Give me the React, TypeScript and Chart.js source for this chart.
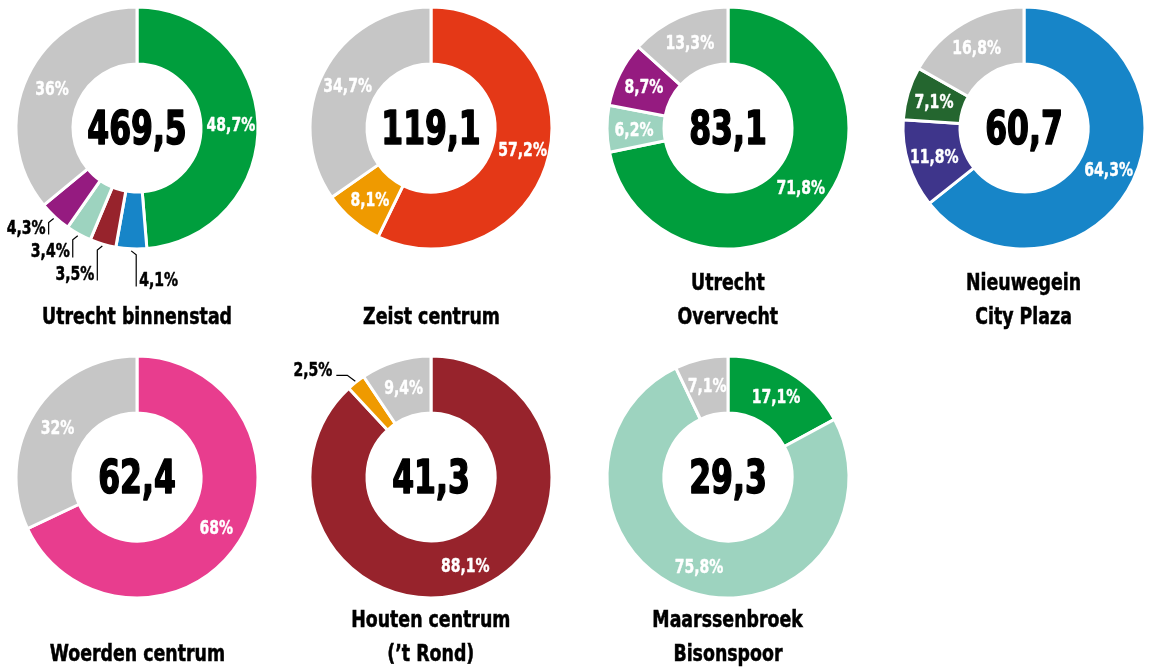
import React, { useEffect, useRef } from 'react';
import { Chart, registerables } from 'chart.js';

Chart.register(...registerables);

const FONT = '"Liberation Sans Narrow", "DejaVu Sans Condensed", "Roboto", "Liberation Sans", sans-serif';

// ---- data ----
const titles: string[][] = [
  ['Utrecht binnenstad'],
  ['Zeist centrum'],
  ['Utrecht', 'Overvecht'],
  ['Nieuwegein', 'City Plaza'],
  ['Woerden centrum'],
  ['Houten centrum', '(’t Rond)'],
  ['Maarssenbroek', 'Bisonspoor'],
];

const totals: number[] = [469.5, 119.1, 83.1, 60.7, 62.4, 41.3, 29.3];

const sharesUtrechtBinnenstad = [48.7, 4.1, 3.5, 3.4, 4.3, 36];
const sharesZeistCentrum = [57.2, 8.1, 34.7];
const sharesUtrechtOvervecht = [71.8, 6.2, 8.7, 13.3];
const sharesNieuwegein = [64.3, 11.8, 7.1, 16.8];
const sharesWoerden = [68, 32];
const sharesHouten = [88.1, 2.5, 9.4];
const sharesMaarssenbroek = [17.1, 75.8, 7.1];

const shares: number[][] = [
  sharesUtrechtBinnenstad,
  sharesZeistCentrum,
  sharesUtrechtOvervecht,
  sharesNieuwegein,
  sharesWoerden,
  sharesHouten,
  sharesMaarssenbroek,
];

// ---- styles ----
const GREEN = '#009e3d';
const BLUE = '#1785c8';
const DARKRED = '#97232c';
const MINT = '#9dd3bf';
const PURPLE = '#951b80';
const GRAY = '#c6c6c6';
const REDORANGE = '#e43817';
const ORANGE = '#ef9a00';
const DARKGREEN = '#24662f';
const INDIGO = '#3e358b';
const PINK = '#e83d8e';

const colors: string[][] = [
  [GREEN, BLUE, DARKRED, MINT, PURPLE, GRAY],
  [REDORANGE, ORANGE, GRAY],
  [GREEN, MINT, PURPLE, GRAY],
  [BLUE, INDIGO, DARKGREEN, GRAY],
  [PINK, GRAY],
  [DARKRED, ORANGE, GRAY],
  [GREEN, MINT, GRAY],
];

// ---- layout ----
const COL_X = [137, 431, 728, 1024];
const ROW_Y = [128, 477];
const TITLE_LAST_LINE_Y = [316, 653];
const HALF = 170;
const OUTER = 121;
const INNER = 64;
const NUM_SCALE = 0.76;
const LABEL_SCALE = 0.82;
const TITLE_SCALE = 0.84;

function fmt(v: number): string {
  return String(v).replace('.', ',');
}

function drawText(
  ctx: CanvasRenderingContext2D,
  txt: string,
  x: number,
  y: number,
  align: CanvasTextAlign,
  sx: number,
  strokeW = 0
) {
  ctx.save();
  ctx.translate(x, y);
  ctx.scale(sx, 1);
  ctx.textAlign = align;
  ctx.textBaseline = 'alphabetic';
  if (strokeW > 0) {
    ctx.lineWidth = strokeW;
    ctx.strokeStyle = ctx.fillStyle as string;
    ctx.lineJoin = 'round';
    ctx.strokeText(txt, 0, 0);
  }
  ctx.fillText(txt, 0, 0);
  ctx.restore();
}

function makeLabelPlugin(total: number, data: number[]) {
  return {
    id: 'donutLabels',
    afterDraw(chart: any) {
      const ctx: CanvasRenderingContext2D = chart.ctx;
      const meta = chart.getDatasetMeta(0);
      const arcs = meta.data;
      if (!arcs.length) return;
      const c = arcs[0].getProps(['x', 'y'], true);
      const cx = c.x, cy = c.y;
      ctx.save();
      // centre total
      ctx.fillStyle = '#000';
      ctx.font = `bold 46px ${FONT}`;
      drawText(ctx, fmt(total), cx, cy + 16, 'center', NUM_SCALE, 1.6);

      ctx.font = `bold 19px ${FONT}`;
      const lower: any[] = [];
      const upper: any[] = [];
      arcs.forEach((arc: any, i: number) => {
        const p = arc.getProps(['startAngle', 'endAngle', 'innerRadius', 'outerRadius'], true);
        const mid = (p.startAngle + p.endAngle) / 2;
        const txt = fmt(data[i]) + '%';
        if (data[i] >= 5) {
          const r = (p.innerRadius + p.outerRadius) / 2 + 1.5;
          ctx.fillStyle = '#fff';
          drawText(ctx, txt, cx + r * Math.cos(mid), cy + r * Math.sin(mid) + 7, 'center', LABEL_SCALE, 0.4);
        } else {
          const item = { mid, txt, outer: p.outerRadius };
          if (Math.sin(mid) > 0) lower.push(item);
          else upper.push(item);
        }
      });

      ctx.strokeStyle = '#000';
      ctx.lineWidth = 1.2;
      ctx.fillStyle = '#000';

      // lower labels: staircase with vertical leaders
      lower.sort((a, b) => Math.abs(Math.cos(b.mid)) - Math.abs(Math.cos(a.mid)));
      let prevEnd = -Infinity;
      lower.forEach((it) => {
        const r0 = it.outer + 2;
        const x0 = cx + r0 * Math.cos(it.mid);
        const y0 = cy + r0 * Math.sin(it.mid);
        const nearBottom = Math.abs(Math.cos(it.mid)) < 0.15;
        const dir = nearBottom ? 1 : Math.cos(it.mid) < 0 ? -1 : 1;
        const x1 = x0 + dir * 5;
        const y1 = y0 + 4;
        const yEnd = nearBottom
          ? Math.max(y1 + 12, prevEnd + 6)
          : Math.max(y1 + 12, prevEnd + 23);
        ctx.strokeStyle = '#000';
        ctx.lineWidth = 1.2;
        ctx.beginPath();
        ctx.moveTo(x0, y0);
        ctx.lineTo(x1, y1);
        ctx.lineTo(x1, yEnd);
        ctx.stroke();
        drawText(ctx, it.txt, x1 + dir * 3, yEnd, dir < 0 ? 'right' : 'left', LABEL_SCALE, 0.5);
        prevEnd = yEnd;
      });

      // upper labels: horizontal leaders
      upper.forEach((it) => {
        const r0 = it.outer + 1;
        const x0 = cx + r0 * Math.cos(it.mid);
        const y0 = cy + r0 * Math.sin(it.mid);
        const dir = Math.cos(it.mid) < 0 ? -1 : 1;
        const x1 = x0 + dir * 8;
        const y1 = y0 - 6;
        const x2 = x1 + dir * 11;
        ctx.strokeStyle = '#000';
        ctx.lineWidth = 1.2;
        ctx.beginPath();
        ctx.moveTo(x0, y0);
        ctx.lineTo(x1, y1);
        ctx.lineTo(x2, y1);
        ctx.stroke();
        drawText(ctx, it.txt, x2 + dir * 4, y1 + 1, dir < 0 ? 'right' : 'left', LABEL_SCALE, 0.5);
      });
      ctx.restore();
    },
  };
}

function Donut({ idx }: { idx: number }) {
  const ref = useRef<HTMLCanvasElement>(null);
  const cx = COL_X[idx < 4 ? idx : idx - 4];
  const cy = ROW_Y[idx < 4 ? 0 : 1];
  useEffect(() => {
    const chart = new Chart(ref.current!, {
      type: 'doughnut',
      data: {
        labels: shares[idx].map((v) => fmt(v) + '%'),
        datasets: [
          {
            data: shares[idx],
            backgroundColor: colors[idx],
            borderColor: '#ffffff',
            borderWidth: 3,
          },
        ],
      },
      options: {
        responsive: false,
        animation: false,
        devicePixelRatio: 1,
        events: [],
        radius: OUTER,
        cutout: `${(INNER / OUTER) * 100}%`,
        layout: { padding: 0 },
        plugins: {
          legend: { display: false },
          tooltip: { enabled: false },
        },
      } as any,
      plugins: [makeLabelPlugin(totals[idx], shares[idx])],
    });
    return () => chart.destroy();
  }, [idx]);
  return (
    <canvas
      ref={ref}
      width={HALF * 2}
      height={HALF * 2}
      style={{ position: 'absolute', left: cx - HALF, top: cy - HALF, width: HALF * 2, height: HALF * 2 }}
    />
  );
}

function Title({ idx }: { idx: number }) {
  const cx = COL_X[idx < 4 ? idx : idx - 4];
  const last = TITLE_LAST_LINE_Y[idx < 4 ? 0 : 1];
  const lines = titles[idx];
  const LH = 34;
  return (
    <div
      style={{
        position: 'absolute',
        left: cx - 150,
        width: 300,
        top: last - LH / 2 - LH * (lines.length - 1),
        textAlign: 'center',
        fontFamily: FONT,
        fontWeight: 'bold',
        fontSize: 23,
        lineHeight: `${LH}px`,
        color: '#000',
      }}
    >
      {lines.map((l, i) => (
        <div key={i}>
          <span
            style={{
              display: 'inline-block',
              transform: `scaleX(${TITLE_SCALE})`,
              transformOrigin: 'center',
              whiteSpace: 'nowrap',
              WebkitTextStroke: '0.5px #000',
            }}
          >
            {l}
          </span>
        </div>
      ))}
    </div>
  );
}

export default function App() {
  return (
    <div
      style={{
        position: 'fixed',
        left: 0,
        top: 0,
        width: 1151,
        height: 668,
        background: '#fff',
        overflow: 'hidden',
      }}
    >
      {titles.map((_, i) => (
        <Donut key={'d' + i} idx={i} />
      ))}
      {titles.map((_, i) => (
        <Title key={'t' + i} idx={i} />
      ))}
    </div>
  );
}
